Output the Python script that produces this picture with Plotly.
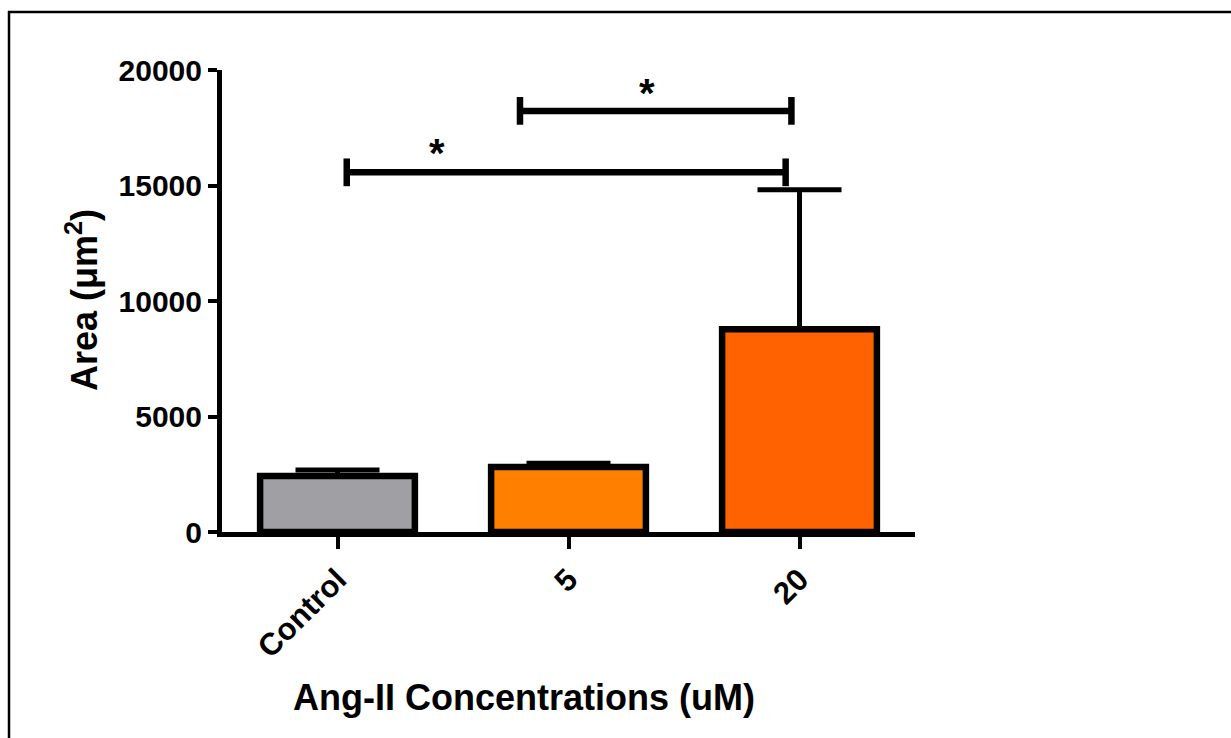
import plotly.graph_objects as go

# ---- data ----
categories = ["Control", "5", "20"]
mean_area = [2420, 2810, 8780]
sem_area = [260, 170, 6040]
bar_colors = ["#A09FA4", "#FF8000", "#FF6200"]

y_ticks = [0, 5000, 10000, 15000, 20000]

# significance comparisons (x in category units, y in data units)
sig_x0 = [0.04, 0.79]
sig_x1 = [1.94, 1.965]
sig_y = [15570, 18230]
sig_cap = [600, 600]
sig_star_x = [0.43, 1.34]
sig_star_y = [16400, 19000]
sig_labels = ["*", "*"]

W, H = 1231, 738
L, R, T, B = 222, 316, 70, 206
PW, PH = W - L - R, H - T - B

def px_x(px):
    return (px - L) / PW

def px_y(py):
    return (H - B - py) / PH

FONT = "Arial, Liberation Sans, sans-serif"

fig = go.Figure()
fig.add_trace(go.Bar(
    x=list(range(len(categories))),
    y=mean_area,
    width=0.67,
    marker=dict(color=bar_colors, line=dict(color="black", width=6.5)),
    error_y=dict(type="data", symmetric=False, array=sem_area,
                 arrayminus=[0] * len(sem_area),
                 color="black", thickness=5, width=42),
    showlegend=False,
))

shapes = []
for x0, x1, y, c in zip(sig_x0, sig_x1, sig_y, sig_cap):
    shapes.append(dict(type="line", xref="x", yref="y", x0=x0, x1=x1, y0=y, y1=y,
                       line=dict(color="black", width=6.5)))
    for xx in (x0, x1):
        shapes.append(dict(type="line", xref="x", yref="y", x0=xx, x1=xx,
                           y0=y - c, y1=y + c, line=dict(color="black", width=6.5)))

# outer frame (left and top edges)
shapes.append(dict(type="line", xref="paper", yref="paper",
                   x0=px_x(9), x1=px_x(9), y0=px_y(11), y1=px_y(H + 5),
                   line=dict(color="black", width=2.5)))
shapes.append(dict(type="line", xref="paper", yref="paper",
                   x0=px_x(8), x1=px_x(W + 5), y0=px_y(12), y1=px_y(12),
                   line=dict(color="black", width=2.5)))

annotations = []
for sx, sy, lab in zip(sig_star_x, sig_star_y, sig_labels):
    annotations.append(dict(x=sx, y=sy, xref="x", yref="y", text=lab, showarrow=False,
                            font=dict(family=FONT, size=40, color="black", weight="bold")))

annotations.append(dict(x=px_x(524), y=px_y(697), xref="paper", yref="paper",
                        text="Ang-II Concentrations (uM)", showarrow=False,
                        xanchor="center", yanchor="middle",
                        font=dict(family=FONT, size=36, color="black", weight="bold")))
annotations.append(dict(x=px_x(82), y=px_y(300), xref="paper", yref="paper",
                        text="Area (μm<sup>2</sup>)", showarrow=False, textangle=-90,
                        xanchor="center", yanchor="middle",
                        font=dict(family=FONT, size=36, color="black", weight="bold")))

fig.update_layout(
    width=W, height=H,
    margin=dict(l=L, r=R, t=T, b=B, pad=0),
    paper_bgcolor="white", plot_bgcolor="white",
    shapes=shapes, annotations=annotations,
    bargap=0.33,
)
fig.update_xaxes(
    range=[-0.5, 2.5], tickmode="array", tickvals=list(range(len(categories))),
    ticktext=categories, tickangle=-45,
    showline=True, linecolor="black", linewidth=5,
    ticks="outside", ticklen=12, tickwidth=4, tickcolor="black",
    tickfont=dict(family=FONT, size=31, color="black", weight="bold"),
    showgrid=False, zeroline=False,
)
fig.update_yaxes(
    range=[0, 20000], tickvals=y_ticks, ticktext=[str(v) for v in y_ticks],
    showline=True, linecolor="black", linewidth=5,
    ticks="outside", ticklen=9, tickwidth=4, tickcolor="black",
    tickfont=dict(family=FONT, size=30, color="black", weight="bold"),
    showgrid=False, zeroline=False,
)

fig.write_html("out.html")
